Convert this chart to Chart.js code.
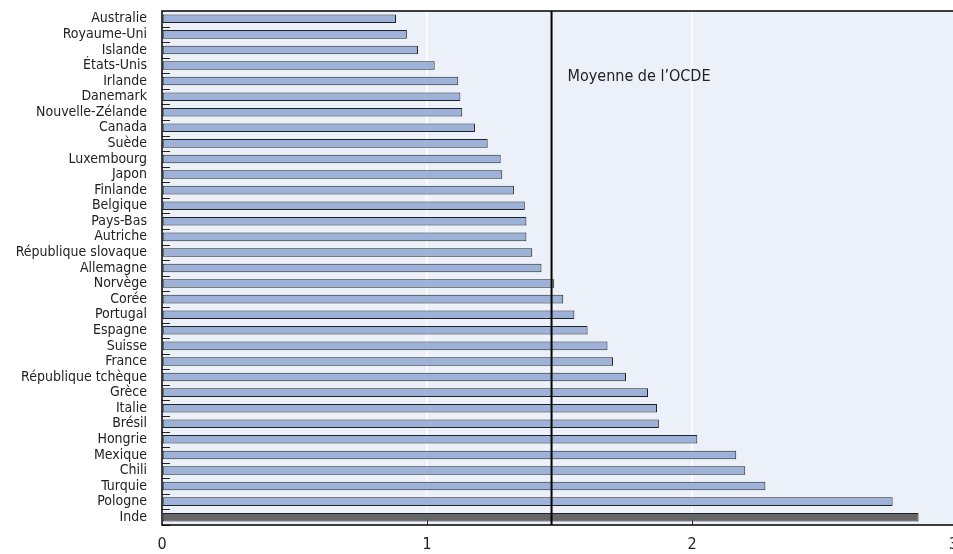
<!DOCTYPE html>
<html>
<head>
<meta charset="utf-8">
<script src="https://cdn.jsdelivr.net/npm/chart.js@4.4.1/dist/chart.umd.min.js"></script>
<style>
  html, body { margin: 0; padding: 0; background: #fff; overflow: hidden; }
  #wrap { width: 957px; height: 554px; position: relative; }
</style>
</head>
<body>
<div id="wrap"><canvas id="chart"></canvas></div>
<script>
const countries = [
  'Australie', 'Royaume-Uni', 'Islande', 'États-Unis', 'Irlande', 'Danemark',
  'Nouvelle-Zélande', 'Canada', 'Suède', 'Luxembourg', 'Japon', 'Finlande',
  'Belgique', 'Pays-Bas', 'Autriche', 'République slovaque', 'Allemagne',
  'Norvège', 'Corée', 'Portugal', 'Espagne', 'Suisse', 'France',
  'République tchèque', 'Grèce', 'Italie', 'Brésil', 'Hongrie', 'Mexique',
  'Chili', 'Turquie', 'Pologne', 'Inde'
];
const values = [
  0.883, 0.924, 0.966, 1.029, 1.118, 1.126,
  1.133, 1.181, 1.229, 1.278, 1.284, 1.328,
  1.369, 1.375, 1.375, 1.397, 1.432,
  1.480, 1.514, 1.556, 1.606, 1.681, 1.702,
  1.751, 1.834, 1.868, 1.875, 2.020, 2.167,
  2.201, 2.277, 2.757, 2.855
];
const xTicks = [0, 1, 2, 3];
const oecdMean = 1.47;
const oecdLabel = 'Moyenne de l’OCDE';
const highlighted = ['Inde'];

const FONT = '"DejaVu Sans Condensed", "Liberation Sans Narrow", sans-serif';

// plot background, frame, OECD line + label, little inside ticks
const decor = {
  id: 'decor',
  beforeDraw(chart) {
    const { ctx, chartArea: a } = chart;
    ctx.save();
    ctx.fillStyle = '#ecf0f8';
    ctx.fillRect(a.left, a.top, a.right - a.left, a.bottom - a.top);
    ctx.restore();
  },
  beforeDatasetsDraw(chart) {
    const { ctx, chartArea: a, scales: { x, y } } = chart;
    ctx.save();
    ctx.strokeStyle = '#222';
    ctx.lineWidth = 1;
    const step = y.getPixelForValue(1) - y.getPixelForValue(0);
    for (let i = 0; i < countries.length; i++) {
      const py = Math.round(y.getPixelForValue(i) + step / 2) + 0.5;
      ctx.beginPath();
      ctx.moveTo(a.left, py);
      ctx.lineTo(a.left + 8, py);
      ctx.stroke();
    }
    xTicks.slice(1, -1).forEach(v => {
      const px = Math.round(x.getPixelForValue(v)) + 0.5;
      ctx.beginPath();
      ctx.moveTo(px, a.bottom);
      ctx.lineTo(px, a.bottom - 6);
      ctx.stroke();
    });
    ctx.restore();
  },
  afterDatasetsDraw(chart) {
    const { ctx, chartArea: a, scales: { x } } = chart;
    ctx.save();
    const px = x.getPixelForValue(oecdMean);
    ctx.strokeStyle = '#000';
    ctx.lineWidth = 2;
    ctx.beginPath();
    ctx.moveTo(px, a.top);
    ctx.lineTo(px, a.bottom);
    ctx.stroke();
    ctx.fillStyle = '#222';
    ctx.font = '16px ' + FONT;
    ctx.textBaseline = 'middle';
    ctx.fillText(oecdLabel, px + 16, a.top + 66);
    ctx.strokeStyle = '#000';
    ctx.lineWidth = 1.5;
    ctx.strokeRect(a.left, a.top, a.right - a.left, a.bottom - a.top);
    ctx.restore();
  }
};

new Chart(document.getElementById('chart'), {
  type: 'bar',
  data: {
    labels: countries,
    datasets: [{
      data: values,
      backgroundColor: countries.map(c => highlighted.includes(c) ? '#666666' : '#9db2d9'),
      borderColor: '#222',
      borderWidth: 1,
      borderSkipped: false,
      barPercentage: 0.55,
      categoryPercentage: 1
    }]
  },
  options: {
    indexAxis: 'y',
    responsive: true,
    maintainAspectRatio: false,
    animation: false,
    layout: { padding: { top: 11, left: 0, right: 0, bottom: 0 } },
    plugins: {
      legend: { display: false },
      tooltip: { enabled: false }
    },
    scales: {
      x: {
        min: 0,
        max: 3,
        afterBuildTicks: s => { s.ticks = xTicks.map(v => ({ value: v })); },
        afterFit: s => { s.height = 29; s.paddingLeft = 0; s.paddingRight = 0; },
        grid: {
          color: ctx => (ctx.tick && ctx.tick.value > 0 && ctx.tick.value < 3) ? '#ffffff' : 'transparent',
          lineWidth: 1.5,
          drawTicks: false
        },
        border: { display: false },
        ticks: {
          color: '#222',
          autoSkip: false,
          maxRotation: 0,
          // last label sits at the canvas edge; nudge it left a little
          callback: v => (v === 3 ? v + '\u2002' : String(v)),
          font: { family: FONT, size: 16 },
          padding: 10
        }
      },
      y: {
        afterFit: s => { s.width = 162; s.paddingTop = 0; s.paddingBottom = 0; },
        grid: { display: false, drawTicks: false },
        border: { display: false },
        ticks: {
          color: '#222',
          autoSkip: false,
          font: { family: FONT, size: 14 },
          padding: 15
        }
      }
    }
  },
  plugins: [decor]
});
</script>
</body>
</html>
